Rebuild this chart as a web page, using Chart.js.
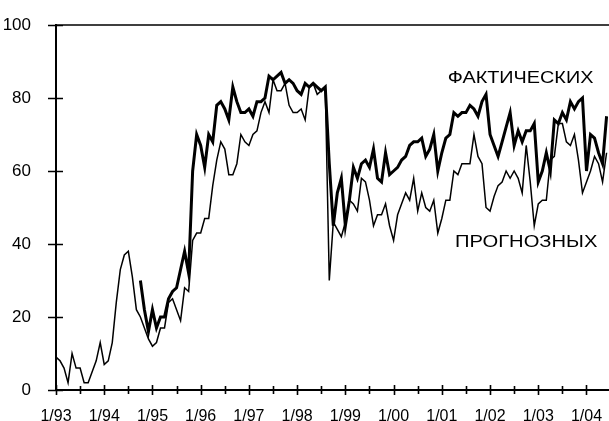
<!DOCTYPE html>
<html>
<head>
<meta charset="utf-8">
<script src="https://cdn.jsdelivr.net/npm/chart.js@4.4.0/dist/chart.umd.min.js"></script>
<style>
  html, body { margin: 0; padding: 0; background: #fff; }
  #wrap { width: 609px; height: 421px; }
</style>
</head>
<body>
<div id="wrap"><canvas id="chart"></canvas></div>
<script>
// month index 0 = 1/93
var yearLabels = ['1/93', '1/94', '1/95', '1/96', '1/97', '1/98', '1/99', '1/00', '1/01', '1/02', '1/03', '1/04'];
var yTicks = [0, 20, 40, 60, 80, 100];

var forecast = [
  9, 8, 6, 2, 10, 6, 6, 2, 2, 5,
  8, 13, 7, 8, 13, 24, 33, 37, 38, 31,
  22, 20, 17, 14, 12, 13, 17, 17, 24, 25,
  22, 19, 28, 27, 41, 43, 43, 47, 47, 56,
  63, 68, 66, 59, 59, 62, 70, 68, 67, 70,
  71, 76, 79, 76, 85, 82, 82, 84, 78, 76,
  76, 77, 74, 83, 84, 81, 82, 83, 30, 46,
  44, 42, 46, 52, 51, 49, 58, 57, 52, 45,
  48, 48, 51, 45, 41, 48, 51, 54, 52, 58,
  49, 54, 50, 49, 52, 43, 47, 52, 52, 60,
  59, 62, 62, 62, 70, 64, 62, 50, 49, 53,
  56, 57, 60, 58, 60, 58, 54, 67, 57, 45,
  51, 52, 52, 63, 64, 73, 73, 68, 67, 70,
  63, 54, 57, 60, 64, 62, 57, 65
];

var actualStart = 21; // 10/94
var actual = [
  30, 22, 16, 22, 17, 20, 20, 25, 27, 28,
  33, 38, 32, 60, 70, 67, 61, 70, 68, 78,
  79, 77, 74, 83, 79, 76, 76, 77, 75, 79,
  79, 80, 86, 85, 86, 87, 84, 85, 84, 82,
  81, 84, 83, 84, 83, 82, 83, 62, 45, 54,
  58, 45, 52, 61, 58, 62, 63, 61, 66, 58,
  57, 65, 59, 60, 61, 63, 64, 67, 68, 68,
  69, 64, 66, 70, 60, 65, 69, 70, 76, 75,
  76, 76, 78, 77, 75, 79, 81, 70, 67, 64,
  68, 72, 76, 67, 71, 68, 71, 71, 73, 57,
  60, 65, 60, 74, 73, 76, 74, 79, 77, 79,
  80, 60, 70, 69, 65, 62, 75
];

var FONT = '"Liberation Sans", Arial, sans-serif';

var forecastPts = forecast.map(function (v, i) { return { x: i, y: v }; });
var actualPts = actual.map(function (v, i) { return { x: i + actualStart, y: v }; });

function wideText(ctx, txt, x, y, sx) {
  ctx.save();
  ctx.translate(x, y);
  ctx.scale(sx, 1);
  ctx.fillText(txt, 0, 0);
  ctx.restore();
}

var axisTicks = {
  id: 'axisTicks',
  afterDraw: function (chart) {
    var ctx = chart.ctx, a = chart.chartArea;
    var xs = chart.scales.x, ys = chart.scales.y;
    ctx.save();
    ctx.strokeStyle = '#000';
    ctx.lineWidth = 1.6;
    ctx.beginPath();
    // frame top
    ctx.moveTo(a.left, a.top);
    ctx.lineTo(a.right, a.top);
    xs.ticks.forEach(function (t) {
      var px = Math.round(xs.getPixelForValue(t.value)) + 0.5;
      var len = t.value % 12 === 0 ? 5 : 4;
      ctx.moveTo(px, a.bottom - len);
      ctx.lineTo(px, a.bottom + len);
    });
    ys.ticks.forEach(function (t) {
      var py = Math.round(ys.getPixelForValue(t.value)) + 0.5;
      ctx.moveTo(a.left - 8, py);
      ctx.lineTo(a.left + 7, py);
    });
    ctx.stroke();

    ctx.fillStyle = '#000';
    ctx.font = '16px ' + FONT;
    ctx.textAlign = 'center';
    ctx.textBaseline = 'middle';
    wideText(ctx, 'ФАКТИЧЕСКИХ', xs.getPixelForValue(115.6), ys.getPixelForValue(85.2), 1.24);
    wideText(ctx, 'ПРОГНОЗНЫХ', xs.getPixelForValue(117), ys.getPixelForValue(40.5), 1.26);
    ctx.restore();
  }
};

new Chart(document.getElementById('chart'), {
  type: 'line',
  data: {
    datasets: [{
      label: 'ФАКТИЧЕСКИХ',
      data: actualPts,
      borderColor: '#000',
      borderWidth: 3,
      pointRadius: 0,
      tension: 0,
      fill: false
    }, {
      label: 'ПРОГНОЗНЫХ',
      data: forecastPts,
      borderColor: '#000',
      borderWidth: 1.5,
      pointRadius: 0,
      tension: 0,
      fill: false
    }]
  },
  options: {
    responsive: true,
    maintainAspectRatio: false,
    animation: false,
    layout: { padding: { top: 25, right: 0, left: 0, bottom: 0 } },
    plugins: {
      legend: { display: false },
      tooltip: { enabled: false }
    },
    scales: {
      x: {
        type: 'linear',
        min: 0,
        max: 137.6,
        grid: { display: false },
        border: { display: true, color: '#000', width: 2 },
        ticks: {
          stepSize: 6,
          includeBounds: false,
          autoSkip: false,
          maxRotation: 0,
          padding: 9,
          color: '#000',
          font: { size: 16, family: FONT },
          callback: function (v) {
            return v % 12 === 0 ? yearLabels[v / 12] : '';
          }
        },
        afterFit: function (s) {
          s.height = 31;
          s.paddingRight = 0;
        }
      },
      y: {
        min: 0,
        max: 100,
        grid: { display: false },
        border: { display: true, color: '#000', width: 2 },
        afterBuildTicks: function (s) {
          s.ticks = yTicks.map(function (v) { return { value: v }; });
        },
        ticks: {
          padding: 17,
          color: '#000',
          font: { size: 17, family: FONT }
        },
        afterFit: function (s) {
          s.width = 56;
          s.paddingTop = 0;
          s.paddingBottom = 0;
        }
      }
    }
  },
  plugins: [axisTicks]
});
</script>
</body>
</html>
